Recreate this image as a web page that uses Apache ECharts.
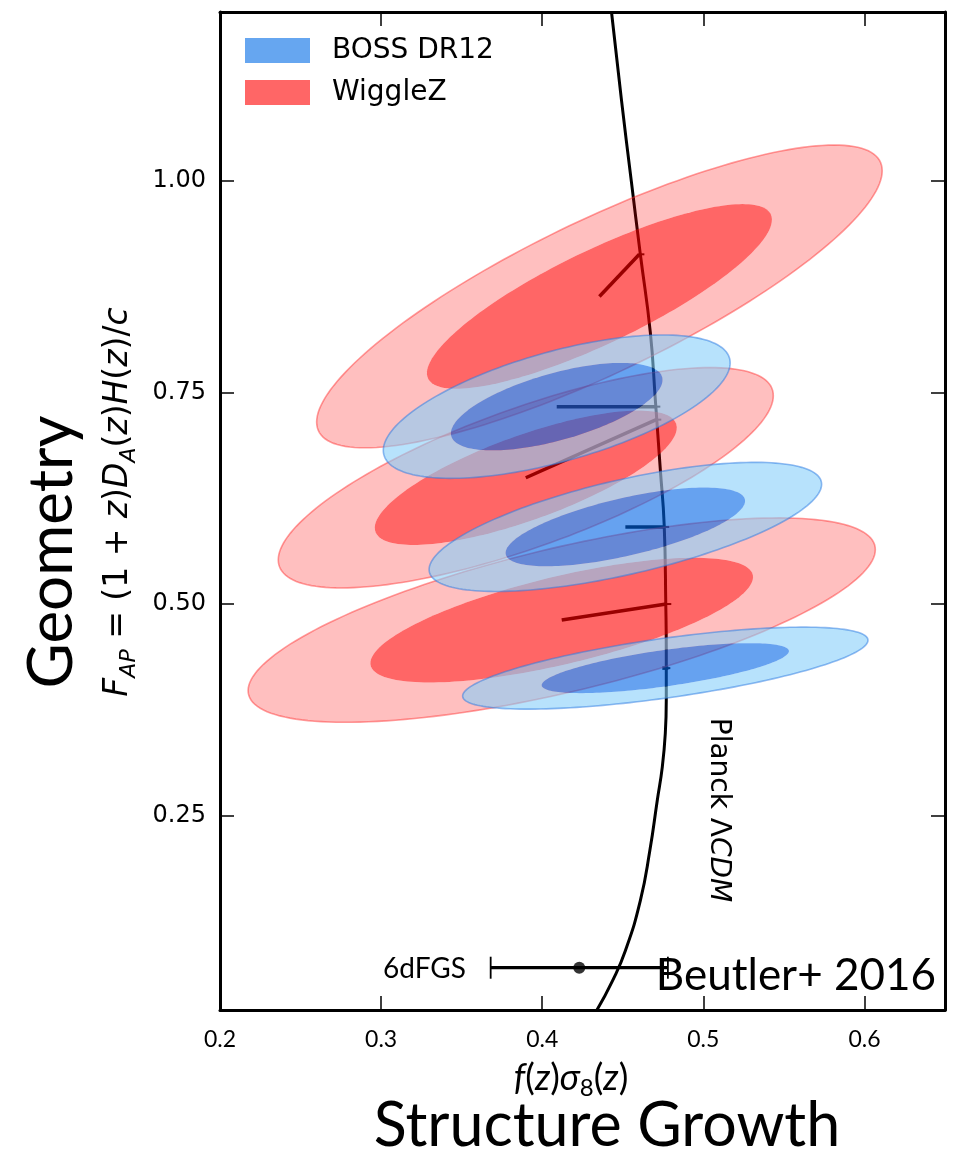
<!DOCTYPE html>
<html>
<head>
<meta charset="utf-8">
<script src="https://cdn.jsdelivr.net/npm/echarts@6/dist/echarts.min.js"></script>
<style>
  html, body { margin: 0; padding: 0; background: #fff; }
  #chart { width: 956px; height: 1150px; }
</style>
</head>
<body>
<div id="chart"></div>
<script>
// Planck ΛCDM prediction traced in the (fσ8, F_AP) plane
const planckFs8 = [0.4430, 0.4491, 0.4553, 0.4609, 0.4671, 0.4702, 0.4733, 0.4757, 0.4767, 0.4770,
                   0.4770, 0.4764, 0.4745, 0.4714, 0.4668, 0.4609, 0.4516, 0.4436, 0.4337];
const planckFap = [1.2000, 1.0972, 1.0000, 0.9135, 0.8211, 0.7417, 0.6588, 0.5936, 0.4988, 0.4455,
                   0.3863, 0.3472, 0.3069, 0.2678, 0.2085, 0.1493, 0.0900, 0.0545, 0.0190];

// BOSS DR12 bins: best fit, 1-sigma errors, correlation, Planck value at the same redshift
const bossZ = [0.38, 0.51, 0.61];
const bossFs8 = [0.4764, 0.4516, 0.4090];
const bossFap = [0.4242, 0.5912, 0.7334];
const bossSigFs8 = [0.0506, 0.0490, 0.0433];
const bossSigFap = [0.0195, 0.0307, 0.0341];
const bossRho = [0.68, 0.66, 0.61];
const bossPredFs8 = [0.4764, 0.4757, 0.4702];
const bossPredFap = [0.4242, 0.5912, 0.7334];

// WiggleZ bins
const wigZ = [0.44, 0.60, 0.73];
const wigFs8 = [0.4121, 0.3898, 0.4355];
const wigFap = [0.4810, 0.6493, 0.8637];
const wigSigFs8 = [0.0783, 0.0618, 0.0706];
const wigSigFap = [0.0486, 0.0524, 0.0720];
const wigRho = [0.69, 0.745, 0.83];
const wigPredFs8 = [0.4770, 0.4708, 0.4603];
const wigPredFap = [0.5000, 0.7180, 0.9135];

// 6dFGS low-redshift growth rate
const sixdfFs8 = [0.423];
const sixdfErr = [0.055];
const sixdfFap = [0.07];

// Axis ticks
const xTicks = [0.2, 0.3, 0.4, 0.5, 0.6];
const yTicks = [0.25, 0.5, 0.75, 1.0];

// Delta chi^2 levels of the 68% and 95% two-parameter contours
const LEVEL_68 = Math.sqrt(2.30);
const LEVEL_95 = Math.sqrt(6.18);
const NPTS = 180;

function contour(api, cx, cy, sx, sy, rho, s) {
  const pts = [];
  const r = Math.sqrt(1 - rho * rho);
  for (let i = 0; i < NPTS; i++) {
    const t = 2 * Math.PI * i / NPTS;
    const c = Math.cos(t), sn = Math.sin(t);
    pts.push(api.coord([cx + s * sx * c, cy + s * sy * (rho * c + r * sn)]));
  }
  return pts;
}

function ellipseRenderer(outerFill, innerFill, edge) {
  return function (params, api) {
    const cx = api.value(0), cy = api.value(1);
    const sx = api.value(2), sy = api.value(3), rho = api.value(4);
    const outer = contour(api, cx, cy, sx, sy, rho, LEVEL_95);
    const inner = contour(api, cx, cy, sx, sy, rho, LEVEL_68);
    // outer band = outer contour with the inner one cut out
    const band = outer.concat([outer[0], inner[0]], inner.slice(1).reverse(), [inner[0]]);
    return {
      type: 'group',
      children: [
        { type: 'polygon', shape: { points: band }, style: { fill: outerFill } },
        { type: 'polygon', shape: { points: inner }, style: { fill: innerFill } },
        { type: 'polygon', shape: { points: outer }, style: { fill: 'none', stroke: edge, lineWidth: 1.6 } }
      ]
    };
  };
}

function zipBins(fs8, fap, sx, sy, rho) {
  return fs8.map((v, i) => [v, fap[i], sx[i], sy[i], rho[i]]);
}
function zipLinks(fs8, fap, pf, pa) {
  return fs8.map((v, i) => [v, fap[i], pf[i], pa[i]]);
}

const linkData = zipLinks(wigFs8, wigFap, wigPredFs8, wigPredFap)
  .concat(zipLinks(bossFs8, bossFap, bossPredFs8, bossPredFap));

const chart = echarts.init(document.getElementById('chart'), null, { renderer: 'canvas' });

const axisLineStyle = { color: '#000', width: 3 };
const tickStyle = { color: '#000', width: 1.5 };

chart.setOption({
  animation: false,
  backgroundColor: '#fff',
  grid: { left: 220, right: 11, top: 12, bottom: 140 },
  xAxis: [
    {
      type: 'value', min: 0.2, max: 0.65, position: 'bottom',
      axisLine: { show: true, onZero: false, lineStyle: axisLineStyle },
      axisTick: { show: true, inside: true, length: 14, lineStyle: tickStyle, customValues: xTicks },
      axisLabel: {
        customValues: xTicks, formatter: v => v.toFixed(1), margin: 18,
        fontSize: 23, color: '#000', fontFamily: 'Lato'
      },
      splitLine: { show: false }
    },
    {
      type: 'value', min: 0.2, max: 0.65, position: 'top',
      axisLine: { show: true, onZero: false, lineStyle: axisLineStyle },
      axisTick: { show: true, inside: true, length: 14, lineStyle: tickStyle, customValues: xTicks },
      axisLabel: { show: false },
      splitLine: { show: false }
    }
  ],
  yAxis: [
    {
      type: 'value', min: 0.02, max: 1.2, position: 'left',
      axisLine: { show: true, onZero: false, lineStyle: axisLineStyle },
      axisTick: { show: true, inside: true, length: 14, lineStyle: tickStyle, customValues: yTicks },
      axisLabel: {
        customValues: yTicks, formatter: v => v.toFixed(2), margin: 14,
        fontSize: 24, color: '#000', fontFamily: 'DejaVu Sans'
      },
      splitLine: { show: false }
    },
    {
      type: 'value', min: 0.02, max: 1.2, position: 'right',
      axisLine: { show: true, onZero: false, lineStyle: axisLineStyle },
      axisTick: { show: true, inside: true, length: 14, lineStyle: tickStyle, customValues: yTicks },
      axisLabel: { show: false },
      splitLine: { show: false }
    }
  ],
  series: [
    {
      name: 'Planck ΛCDM', type: 'line', xAxisIndex: 0, yAxisIndex: 0,
      data: planckFs8.map((v, i) => [v, planckFap[i]]),
      showSymbol: false, smooth: 0.5, clip: true,
      lineStyle: { color: '#000', width: 3 }, z: 1
    },
    {
      name: 'links', type: 'custom', xAxisIndex: 0, yAxisIndex: 0, clip: true, z: 1,
      data: linkData,
      renderItem: function (params, api) {
        const a = api.coord([api.value(0), api.value(1)]);
        const b = api.coord([api.value(2), api.value(3)]);
        const same = Math.abs(a[0] - b[0]) < 1 && Math.abs(a[1] - b[1]) < 1;
        return {
          type: 'group',
          children: [
            same
              ? { type: 'line', shape: { x1: a[0] - 3, y1: a[1], x2: a[0] + 3, y2: a[1] }, style: { stroke: '#000', lineWidth: 3.5 } }
              : { type: 'line', shape: { x1: a[0], y1: a[1], x2: b[0], y2: b[1] }, style: { stroke: '#000', lineWidth: 3.5 } },
            { type: 'line', shape: { x1: b[0], y1: b[1], x2: b[0] + 5, y2: b[1] }, style: { stroke: '#000', lineWidth: 2 } }
          ]
        };
      }
    },
    {
      name: 'WiggleZ', type: 'custom', xAxisIndex: 0, yAxisIndex: 0, clip: true, z: 2,
      data: zipBins(wigFs8, wigFap, wigSigFs8, wigSigFap, wigRho),
      itemStyle: { color: '#ff6666' },
      renderItem: ellipseRenderer('rgba(255,0,0,0.25)', 'rgba(255,0,0,0.6)', 'rgba(255,40,40,0.45)')
    },
    {
      name: 'BOSS DR12', type: 'custom', xAxisIndex: 0, yAxisIndex: 0, clip: true, z: 3,
      data: zipBins(bossFs8, bossFap, bossSigFs8, bossSigFap, bossRho),
      itemStyle: { color: '#66a6f0' },
      renderItem: ellipseRenderer('rgba(135,206,250,0.6)', 'rgba(0,100,230,0.6)', 'rgba(40,120,225,0.5)')
    },
    {
      name: '6dFGS', type: 'custom', xAxisIndex: 0, yAxisIndex: 0, clip: true, z: 4,
      data: sixdfFs8.map((v, i) => [v, sixdfFap[i], sixdfErr[i]]),
      renderItem: function (params, api) {
        const lo = api.coord([api.value(0) - api.value(2), api.value(1)]);
        const hi = api.coord([api.value(0) + api.value(2), api.value(1)]);
        return {
          type: 'group',
          children: [
            { type: 'line', shape: { x1: lo[0], y1: lo[1], x2: hi[0], y2: hi[1] }, style: { stroke: '#000', lineWidth: 3.2 } },
            { type: 'line', shape: { x1: lo[0], y1: lo[1] - 11, x2: lo[0], y2: lo[1] + 11 }, style: { stroke: '#000', lineWidth: 1.8 } },
            { type: 'line', shape: { x1: hi[0], y1: hi[1] - 11, x2: hi[0], y2: hi[1] + 11 }, style: { stroke: '#000', lineWidth: 1.8 } }
          ]
        };
      }
    },
    {
      name: '6dFGS point', type: 'scatter', xAxisIndex: 0, yAxisIndex: 0, z: 5,
      data: sixdfFs8.map((v, i) => [v, sixdfFap[i]]),
      symbol: 'circle', symbolSize: 12, itemStyle: { color: '#000' }
    }
  ],
  graphic: [
    // legend
    { type: 'rect', left: 245, top: 38, shape: { width: 65, height: 25 }, style: { fill: '#66a6f0' }, z: 100 },
    { type: 'rect', left: 245, top: 80, shape: { width: 65, height: 25 }, style: { fill: '#ff6666' }, z: 100 },
    { type: 'text', x: 332, y: 51, style: { text: 'BOSS DR12', font: '28px "DejaVu Sans"', fill: '#000', align: 'left', verticalAlign: 'middle' }, z: 100 },
    { type: 'text', x: 332, y: 93, style: { text: 'WiggleZ', font: '28px "DejaVu Sans"', fill: '#000', align: 'left', verticalAlign: 'middle' }, z: 100 },
    // axis titles
    {
      type: 'text', x: 52, y: 552, rotation: Math.PI / 2, z: 100,
      style: { text: 'Geometry', font: '62px Lato', fill: '#000', align: 'center', verticalAlign: 'middle' }
    },
    {
      type: 'text', x: 118, y: 502, rotation: Math.PI / 2, z: 100,
      style: {
        text: '{i|F}{s|AP}{n| = (1 + }{i|z}{n|)}{i|D}{s|A}{n|(}{i|z}{n|)}{i|H}{n|(}{i|z}{n|)/}{i|c}',
        align: 'center', verticalAlign: 'middle', fill: '#000',
        rich: {
          n: { fontFamily: 'DejaVu Sans', fontSize: 33, lineHeight: 44, verticalAlign: 'middle' },
          i: { fontFamily: 'DejaVu Sans', fontStyle: 'italic', fontSize: 33, lineHeight: 44, verticalAlign: 'middle' },
          s: { fontFamily: 'DejaVu Sans', fontStyle: 'italic', fontSize: 22, lineHeight: 22, verticalAlign: 'bottom' }
        }
      }
    },
    {
      type: 'text', x: 571, y: 1078, z: 100,
      style: {
        text: '{i|f}{n|(}{i|z}{n|)}{i|σ}{s|8}{n|(}{i|z}{n|)}',
        align: 'center', verticalAlign: 'middle', fill: '#000',
        rich: {
          n: { fontFamily: 'Lato', fontSize: 36, lineHeight: 44, verticalAlign: 'middle' },
          i: { fontFamily: 'Lato', fontStyle: 'italic', fontSize: 36, lineHeight: 44, verticalAlign: 'middle' },
          s: { fontFamily: 'Lato', fontSize: 24, lineHeight: 24, verticalAlign: 'bottom' }
        }
      }
    },
    {
      type: 'text', x: 607, y: 1126, z: 100,
      style: { text: 'Structure Growth', font: '61px Lato', fill: '#000', align: 'center', verticalAlign: 'middle' }
    },
    // annotations
    {
      type: 'text', x: 718, y: 810, rotation: -Math.PI / 2, z: 100,
      style: {
        text: '{n|Planck Λ}{i|CDM}', align: 'center', verticalAlign: 'middle', fill: '#000',
        rich: {
          n: { fontFamily: 'DejaVu Sans', fontSize: 28 },
          i: { fontFamily: 'DejaVu Sans', fontStyle: 'italic', fontSize: 28 }
        }
      }
    },
    {
      type: 'text', x: 466, y: 969, z: 100,
      style: { text: '6dFGS', font: '28px Lato', fill: '#000', align: 'right', verticalAlign: 'middle' }
    },
    {
      type: 'text', x: 936, y: 976, z: 100,
      style: { text: 'Beutler+ 2016', font: '44px Lato', fill: '#000', align: 'right', verticalAlign: 'middle' }
    }
  ]
});
</script>
</body>
</html>
